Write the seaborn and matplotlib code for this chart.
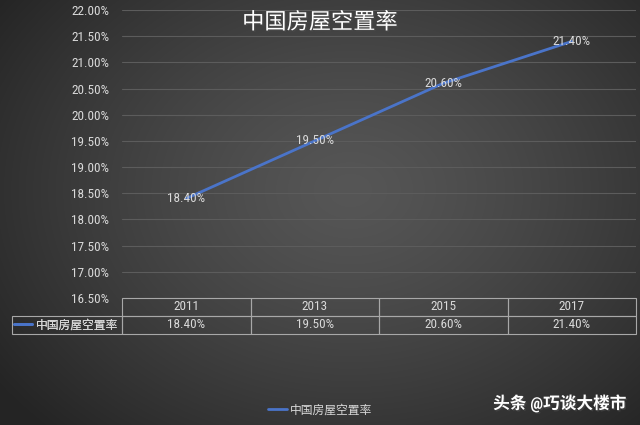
import numpy as np
import pandas as pd
import matplotlib
matplotlib.use("Agg")
import matplotlib.pyplot as plt
import matplotlib.patheffects as pe
from matplotlib import font_manager
from matplotlib.table import Table
import seaborn as sns

# ---------------- data ----------------
years = ["2011", "2013", "2015", "2017"]
vacancy = [18.40, 19.50, 20.60, 21.40]
series_name = "中国房屋空置率"
title = "中国房屋空置率"
watermark = "头条 @巧谈大楼市"
y_ticks = [16.5, 17.0, 17.5, 18.0, 18.5, 19.0, 19.5, 20.0, 20.5, 21.0, 21.5, 22.0]

df = pd.DataFrame({"year": years, "rate": vacancy})

sns.set_style("dark")
# narrow font for numbers if one is installed
installed = {f.name for f in font_manager.fontManager.ttflist}
narrow = [n for n in ["Liberation Sans Narrow", "Arial Narrow", "DejaVu Sans Condensed",
                      "Roboto Condensed", "Open Sans Condensed"] if n in installed]
plt.rcParams["font.family"] = narrow[:1] + ["Noto Sans CJK SC", "DejaVu Sans"]
num_size = 9.5 if narrow else 8.8

TXT = "#d9d9d9"
LINE = "#4a74c9"
GRID = "#5c5c5c"
EDGE = "#a8a8a8"

W, H = 640, 425
fig = plt.figure(figsize=(W / 100, H / 100), dpi=100)

# background radial gradient
bg = fig.add_axes([0, 0, 1, 1], zorder=-5)
xx, yy = np.meshgrid(np.arange(W), np.arange(H))
d = np.sqrt(((xx - 350) / 430.0) ** 2 + ((yy - 190) / 330.0) ** 2)
d = np.clip(d, 0, 1)
val = (0x56 - (0x56 - 0x25) * d ** 1.3) / 255.0
bg.imshow(np.dstack([val, val, val]), aspect="auto", extent=[0, 1, 0, 1])
bg.set_axis_off()

# main axes
left, right = 122 / W, 636 / W
bottom, top = (H - 298) / H, (H - 10) / H
ax = fig.add_axes([left, bottom, right - left, top - bottom])
ax.set_facecolor("none")

sns.lineplot(data=df, x="year", y="rate", ax=ax, color=LINE, linewidth=2.0,
             label=series_name, legend=False, sort=False)

ax.set_xlim(-0.5, len(years) - 0.5)
ax.set_ylim(16.5, 22.0)
ax.set_yticks(y_ticks)
ax.set_yticklabels([f"{v:.2f}%" for v in y_ticks], color=TXT, fontsize=num_size)
ax.tick_params(axis="y", length=0, pad=9)
ax.set_xticks([])
ax.set_xlabel("")
ax.set_ylabel("")
ax.grid(axis="y", color=GRID, linewidth=0.8)
ax.grid(axis="x", visible=False)
for s in ax.spines.values():
    s.set_visible(False)

# data labels
for i, v in enumerate(vacancy):
    ax.text(i, v, f"{v:.2f}%", ha="center", va="center", color=TXT, fontsize=num_size)

# title
fig.text(320 / W, 1 - 23 / H, title, ha="center", va="center", color="white",
         fontsize=16,
         path_effects=[pe.withSimplePatchShadow(offset=(1, -1), alpha=0.6)])

# data table under the axes
lab_w = 110 / 514
col_w = 1 / len(years)
row_h = 18 / 288
tbl = Table(ax, bbox=[0, -2 * row_h, 1, 2 * row_h])
for j, yr in enumerate(years):
    tbl.add_cell(0, j, col_w, row_h, text=yr, loc="center", facecolor="none")
    tbl.add_cell(1, j, col_w, row_h, text=f"{vacancy[j]:.2f}%", loc="center",
                 facecolor="none")
tbl.add_cell(1, -1, lab_w, row_h, text="", loc="right", facecolor="none")
tbl.auto_set_font_size(False)
for (r, c), cell in tbl.get_celld().items():
    cell.set_edgecolor(EDGE)
    cell.set_linewidth(0.8)
    cell.get_text().set_color(TXT)
    cell.get_text().set_fontsize(num_size)
ax.add_table(tbl)

# legend key inside the table row label
handles, labels = ax.get_legend_handles_labels()
leg_in = ax.legend(handles, labels, loc="center left",
                   bbox_to_anchor=(-lab_w + 0.003, -1.5 * row_h), frameon=False,
                   fontsize=8.5, labelcolor=TXT, handlelength=1.6,
                   handletextpad=0.3, borderaxespad=0, borderpad=0)
ax.add_artist(leg_in)

# bottom legend
fig.legend(handles, labels, loc="center", bbox_to_anchor=(0.5, 1 - 410 / H),
           frameon=False, fontsize=8.5, labelcolor=TXT, handlelength=1.6,
           handletextpad=0.3)

# watermark
fig.text(626 / W, 1 - 403 / H, watermark, ha="right", va="center",
         color="white", fontsize=12, fontweight="bold",
         path_effects=[pe.withSimplePatchShadow(offset=(1, -1), alpha=0.6)])

fig.savefig("out.png", dpi=100)
